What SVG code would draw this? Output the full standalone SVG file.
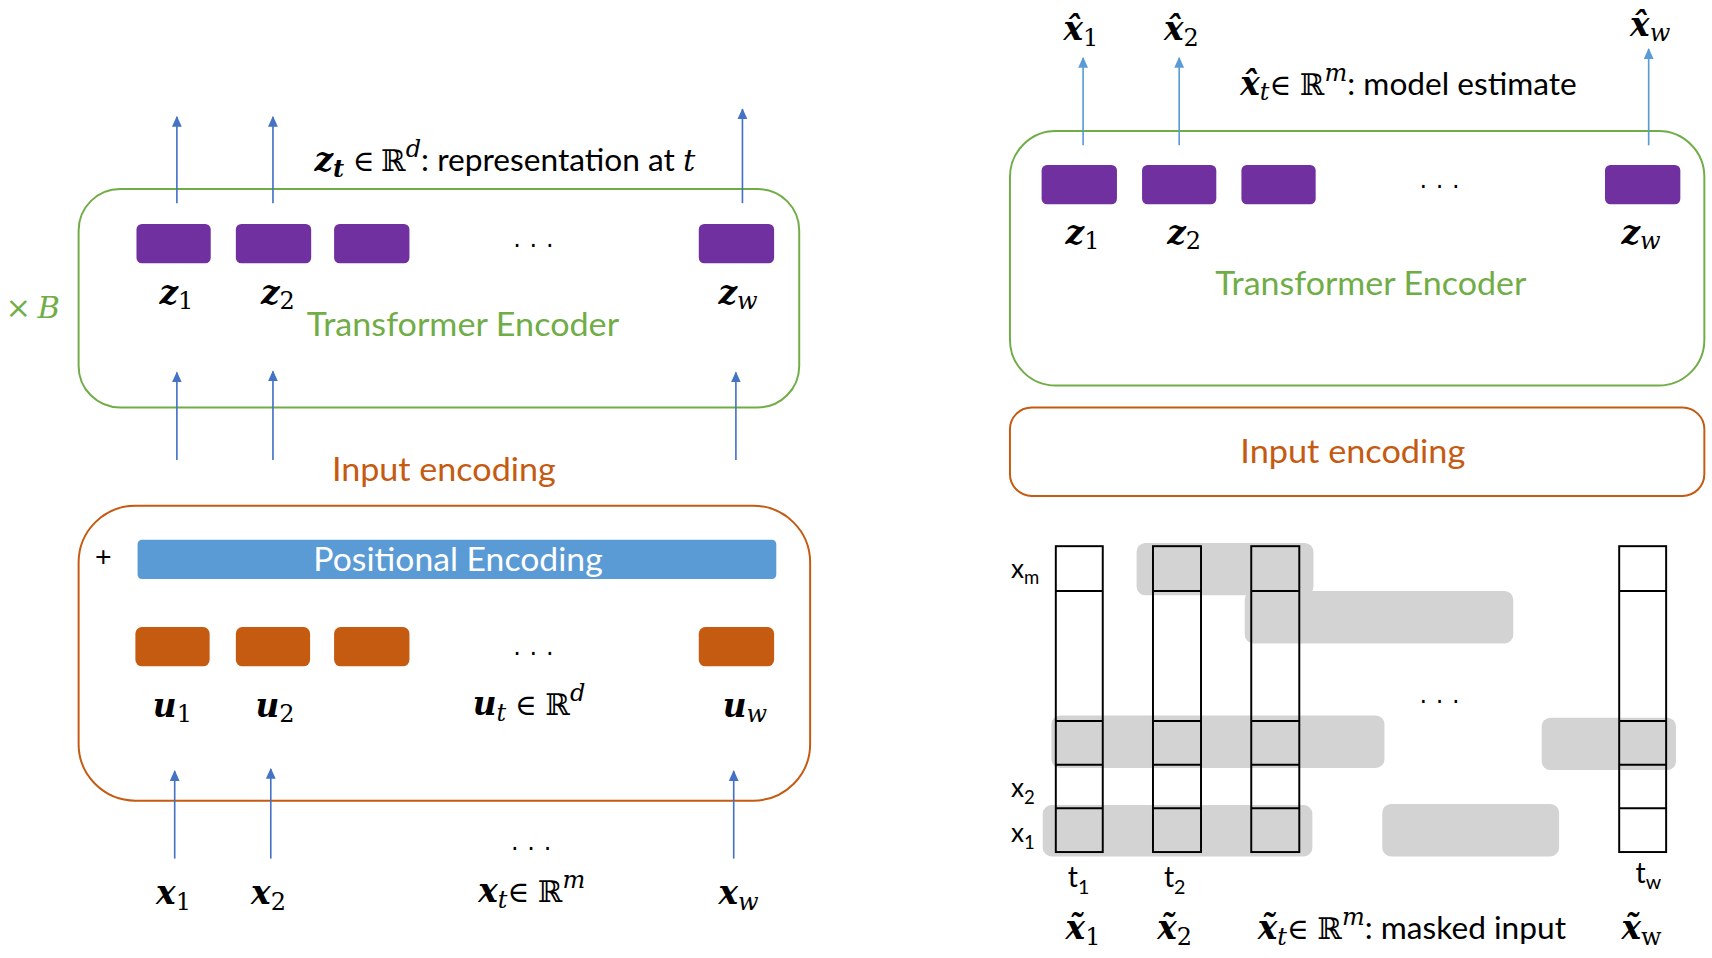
<svg xmlns="http://www.w3.org/2000/svg" width="1712" height="958" viewBox="0 0 1712 958">
<defs>
<style>
.bg{fill:#ffffff}
.green{fill:none;stroke:#70ad47;stroke-width:1.8}
.orange{fill:none;stroke:#c55a11;stroke-width:1.8}
.purple{fill:#7030a0}
.obox{fill:#c55a11}
.pe{fill:#5b9bd5}
.gray{fill:#d3d3d3}
.col{fill:none;stroke:#000;stroke-width:1.8}
.arrL{stroke:#4472c4;stroke-width:1.5;fill:none;marker-end:url(#ahL)}
.arrR{stroke:#5b9bd5;stroke-width:1.5;fill:none;marker-end:url(#ahR)}
.sans{font-family:Lato,"Open Sans","Liberation Sans",sans-serif}
.gt{fill:#70ad47;font-size:30px}
.ot{fill:#c55a11;font-size:30px}
.wt{fill:#ffffff;font-size:30px}
.bt{fill:#000;font-size:29px;font-style:normal;font-weight:normal}
.m{font-family:"DejaVu Serif","Liberation Serif",serif;fill:#000}
.mv{font-weight:bold;font-style:italic;font-size:30px}
.sb{font-size:22px;font-style:normal;font-weight:normal}
.si{font-size:22px;font-style:italic;font-weight:normal}
.sbi{font-size:22px;font-style:italic;font-weight:bold}
.op{font-size:27px;font-style:normal;font-weight:normal}
.dots{font-family:"DejaVu Sans","Liberation Sans",sans-serif;font-size:22px;fill:#000;letter-spacing:8px}
.lab{font-family:Lato,"Open Sans","Liberation Sans",sans-serif;fill:#000}
</style>
<marker id="ahL" markerWidth="10" markerHeight="10" viewBox="0 0 10 10" refX="9" refY="5" orient="auto" markerUnits="userSpaceOnUse"><path d="M0,0.5 L10,5 L0,9.5 z" fill="#4472c4"/></marker>
<marker id="ahR" markerWidth="10" markerHeight="10" viewBox="0 0 10 10" refX="9" refY="5" orient="auto" markerUnits="userSpaceOnUse"><path d="M0,0.5 L10,5 L0,9.5 z" fill="#5b9bd5"/></marker>
</defs>
<rect class="bg" x="0" y="0" width="1712" height="958"/>
<g transform="scale(1.091837,1.092360)">

<!-- LEFT PANEL -->
<g id="left-transformer">
<rect class="green" x="72" y="173" width="660" height="200" rx="38"/>
<rect class="purple" x="125" y="205" width="68" height="36" rx="5"/>
<rect class="purple" x="216" y="205" width="69" height="36" rx="5"/>
<rect class="purple" x="306" y="205" width="69" height="36" rx="5"/>
<rect class="purple" x="640" y="205" width="69" height="36" rx="5"/>
<text class="dots" x="470" y="226">...</text>
<text class="m" x="146" y="278"><tspan class="mv">z</tspan><tspan class="sb" dy="5">1</tspan></text>
<text class="m" x="239" y="278"><tspan class="mv">z</tspan><tspan class="sb" dy="5">2</tspan></text>
<text class="m" x="658" y="278"><tspan class="mv">z</tspan><tspan class="si" dy="5">w</tspan></text>
<text class="sans gt" x="281" y="308" textLength="286" lengthAdjust="spacingAndGlyphs">Transformer Encoder</text>
</g>
<g id="left-times-b">
<text x="5" y="291" font-family="DejaVu Serif,Liberation Serif,serif" font-size="28" fill="#70ad47"><tspan>×</tspan><tspan font-style="italic" dx="6">B</tspan></text>
</g>
<g id="left-zt-label">
<text class="m" x="288" y="157"><tspan class="mv">z</tspan><tspan class="sbi" dy="5">t</tspan><tspan class="op" dy="-5" dx="8">∈</tspan><tspan class="op" dx="6">ℝ</tspan><tspan class="si" dy="-13">d</tspan><tspan class="sans bt" font-size="28" dy="13">: representation at </tspan><tspan font-style="italic" font-size="28">t</tspan></text>
</g>
<g id="left-input-label">
<text class="sans ot" x="304" y="440" textLength="205" lengthAdjust="spacingAndGlyphs">Input encoding</text>
</g>
<g id="left-input-encoding">
<rect class="orange" x="72" y="463" width="670" height="270" rx="52"/>
<text x="87" y="518" font-family="Liberation Sans,sans-serif" font-size="26" fill="#000">+</text>
<rect class="pe" x="126" y="494" width="585" height="36" rx="4"/>
<text class="sans wt" x="287" y="523" textLength="265" lengthAdjust="spacingAndGlyphs">Positional Encoding</text>
<rect class="obox" x="124" y="574" width="68" height="36" rx="6"/>
<rect class="obox" x="216" y="574" width="68" height="36" rx="6"/>
<rect class="obox" x="306" y="574" width="69" height="36" rx="6"/>
<rect class="obox" x="640" y="574" width="69" height="36" rx="6"/>
<text class="dots" x="470" y="600">...</text>
<text class="m" x="140" y="656"><tspan class="mv">u</tspan><tspan class="sb" dy="5">1</tspan></text>
<text class="m" x="234" y="656"><tspan class="mv">u</tspan><tspan class="sb" dy="5">2</tspan></text>
<text class="m" x="433" y="655"><tspan class="mv">u</tspan><tspan class="si" dy="5">t</tspan><tspan class="op" dy="-5" dx="8">∈</tspan><tspan class="op" dx="8">ℝ</tspan><tspan class="si" dy="-13">d</tspan></text>
<text class="m" x="662" y="656"><tspan class="mv">u</tspan><tspan class="si" dy="5">w</tspan></text>
</g>
<g id="left-inputs">
<text class="dots" x="468" y="778">...</text>
<text class="m" x="143" y="828"><tspan class="mv">x</tspan><tspan class="sb" dy="5">1</tspan></text>
<text class="m" x="230" y="828"><tspan class="mv">x</tspan><tspan class="sb" dy="5">2</tspan></text>
<text class="m" x="438" y="826"><tspan class="mv">x</tspan><tspan class="si" dy="5">t</tspan><tspan class="op" dy="-5">∈</tspan><tspan class="op" dx="8">ℝ</tspan><tspan class="si" dy="-13">m</tspan></text>
<text class="m" x="658" y="828"><tspan class="mv">x</tspan><tspan class="si" dy="5">w</tspan></text>
</g>

<!-- RIGHT PANEL -->
<g id="right-outputs">
<text class="m" x="974" y="37"><tspan class="mv">x̂</tspan><tspan class="sb" dy="5">1</tspan></text>
<text class="m" x="1066" y="37"><tspan class="mv">x̂</tspan><tspan class="sb" dy="5">2</tspan></text>
<text class="m" x="1493" y="33"><tspan class="mv">x̂</tspan><tspan class="si" dy="5">w</tspan></text>
<text class="m" x="1136" y="87"><tspan class="mv">x̂</tspan><tspan class="si" dy="5">t</tspan><tspan class="op" dy="-5">∈</tspan><tspan class="op" dx="8">ℝ</tspan><tspan class="si" dy="-13">m</tspan><tspan class="sans bt" font-size="30" dy="13">: model estimate</tspan></text>
</g>
<g id="right-transformer">
<rect class="green" x="925" y="120" width="636" height="233" rx="42"/>
<rect class="purple" x="954" y="151" width="69" height="36" rx="5"/>
<rect class="purple" x="1046" y="151" width="68" height="36" rx="5"/>
<rect class="purple" x="1137" y="151" width="68" height="36" rx="5"/>
<rect class="purple" x="1470" y="151" width="69" height="36" rx="5"/>
<text class="dots" x="1300" y="172">...</text>
<text class="m" x="976" y="223"><tspan class="mv">z</tspan><tspan class="sb" dy="5">1</tspan></text>
<text class="m" x="1069" y="223"><tspan class="mv">z</tspan><tspan class="sb" dy="5">2</tspan></text>
<text class="m" x="1485" y="223"><tspan class="mv">z</tspan><tspan class="si" dy="5">w</tspan></text>
<text class="sans gt" x="1113" y="270" textLength="285" lengthAdjust="spacingAndGlyphs">Transformer Encoder</text>
</g>
<g id="right-input-encoding">
<rect class="orange" x="925" y="373" width="636" height="81" rx="20"/>
<text class="sans ot" x="1136" y="424" textLength="206" lengthAdjust="spacingAndGlyphs">Input encoding</text>
</g>
<g id="masked-input">
<rect class="gray" x="1041" y="497" width="162" height="48" rx="8"/>
<rect class="gray" x="1140" y="541" width="246" height="48" rx="8"/>
<rect class="gray" x="963" y="655" width="305" height="48" rx="8"/>
<rect class="gray" x="1412" y="657" width="123" height="48" rx="8"/>
<rect class="gray" x="955" y="737" width="247" height="47" rx="8"/>
<rect class="gray" x="1266" y="736" width="162" height="48" rx="8"/>
<g class="col">
<rect x="967" y="500" width="43" height="280"/><path d="M967,541H1010M967,660H1010M967,700H1010M967,740H1010"/>
<rect x="1056" y="500" width="44" height="280"/><path d="M1056,541H1100M1056,660H1100M1056,700H1100M1056,740H1100"/>
<rect x="1146" y="500" width="44" height="280"/><path d="M1146,541H1190M1146,660H1190M1146,700H1190M1146,740H1190"/>
<rect x="1483" y="500" width="43" height="280"/><path d="M1483,541H1526M1483,660H1526M1483,700H1526M1483,740H1526"/>
</g>
<text class="dots" x="1300" y="644">...</text>
<text class="lab" font-size="24" x="926" y="529">x<tspan font-size="17" dy="6">m</tspan></text>
<text class="lab" font-size="24" x="926" y="730">x<tspan font-size="17" dy="6">2</tspan></text>
<text class="lab" font-size="24" x="926" y="771">x<tspan font-size="17" dy="6">1</tspan></text>
<text class="lab" font-size="26" x="978" y="812">t<tspan font-size="18" dy="6">1</tspan></text>
<text class="lab" font-size="26" x="1066" y="812">t<tspan font-size="18" dy="6">2</tspan></text>
<text class="lab" font-size="26" x="1498" y="808">t<tspan font-size="18" dy="6">w</tspan></text>
<text class="m" x="976" y="860"><tspan class="mv">x̃</tspan><tspan class="sb" dy="5">1</tspan></text>
<text class="m" x="1060" y="860"><tspan class="mv">x̃</tspan><tspan class="sb" dy="5">2</tspan></text>
<text class="m" x="1152" y="860"><tspan class="mv">x̃</tspan><tspan class="si" dy="5">t</tspan><tspan class="op" dy="-5">∈</tspan><tspan class="op" dx="8">ℝ</tspan><tspan class="si" dy="-13">m</tspan><tspan class="sans bt" font-size="30" dy="13">: masked input</tspan></text>
<text class="m" x="1485" y="860"><tspan class="mv">x̃</tspan><tspan class="sb" dy="5">w</tspan></text>
</g>

<g id="connectors">
<path class="arrL" d="M162,186V107"/>
<path class="arrL" d="M250,186V107"/>
<path class="arrL" d="M680,186V100"/>
<path class="arrL" d="M162,421V341"/>
<path class="arrL" d="M250,421V340"/>
<path class="arrL" d="M674,421V341"/>
<path class="arrL" d="M160,786V706"/>
<path class="arrL" d="M248,786V704"/>
<path class="arrL" d="M672,786V706"/>
<path class="arrR" d="M992,133V53"/>
<path class="arrR" d="M1080,133V53"/>
<path class="arrR" d="M1510,133V45"/>
</g>
</g>
</svg>
